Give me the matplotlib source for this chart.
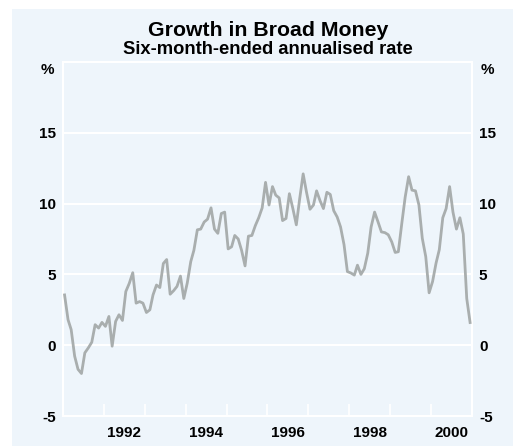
import datetime as dt
import matplotlib
matplotlib.use("Agg")
import matplotlib.pyplot as plt
from matplotlib.patches import Rectangle
import pandas as pd

plt.rcParams["font.family"] = ["Liberation Sans", "DejaVu Sans"]
plt.rcParams["font.weight"] = "bold"
plt.rcParams["axes.unicode_minus"] = False

# Broad money growth, six-month-ended annualised, monthly Jan 1991 - Dec 2000 (%)
growth = [
    3.55, 1.8, 1.1, -0.77, -1.7, -2.0, -0.54, -0.19, 0.21, 1.45, 1.21, 1.61,
    1.33, 2.03, -0.07, 1.68, 2.15, 1.75, 3.79, 4.37, 5.12, 2.97, 3.08, 2.97,
    2.31, 2.5, 3.55, 4.25, 4.07, 5.77, 6.05, 3.6, 3.85, 4.15, 4.88, 3.3,
    4.4, 5.9, 6.7, 8.15, 8.2, 8.7, 8.9, 9.7, 8.2, 7.9, 9.3, 9.4,
    6.8, 6.95, 7.75, 7.5, 6.7, 5.6, 7.7, 7.75, 8.45, 9.0, 9.7, 11.5,
    9.9, 11.2, 10.6, 10.4, 8.8, 8.95, 10.7, 9.65, 8.5, 10.35, 12.1, 10.8,
    9.6, 9.9, 10.9, 10.2, 9.65, 10.8, 10.65, 9.5, 9.05, 8.35, 7.1, 5.2,
    5.1, 4.95, 5.65, 5.0, 5.4, 6.5, 8.35, 9.4, 8.7, 8.0, 7.95, 7.8,
    7.3, 6.55, 6.6, 8.6, 10.45, 11.9, 10.95, 10.9, 9.9, 7.55, 6.25, 3.7,
    4.5, 5.8, 6.75, 9.0, 9.65, 11.2, 9.4, 8.2, 9.0, 7.85, 3.3, 1.6,
]
months = pd.date_range("1991-01-01", periods=len(growth), freq="MS") + pd.Timedelta(days=14)

y_ticks = [-5, 0, 5, 10, 15]
label_years = [1992, 1994, 1996, 1998, 2000]

panel = "#eef5fb"
line_col = "#a9aeae"

fig = plt.figure(figsize=(5.13, 4.47), dpi=100)
fig.patches.append(Rectangle((12 / 513, 1 / 447), 1 - 12 / 513, 437 / 447,
                             transform=fig.transFigure, facecolor=panel,
                             edgecolor="none", zorder=-10))

ax = fig.add_axes([63 / 513, 31 / 447, 409 / 513, 354 / 447])
ax.set_facecolor(panel)
ax.plot(months, growth, color=line_col, lw=2.0, zorder=3)

ax.set_xlim(dt.datetime(1991, 1, 1), dt.datetime(2001, 1, 1))
ax.set_ylim(-5, 20)

# year boundaries as inward ticks, labels centred in the year
ax.set_xticks([dt.datetime(y, 1, 1) for y in range(1992, 2001)])
ax.set_xticklabels([])
ax.set_xticks([dt.datetime(y, 7, 2) for y in label_years], minor=True)
ax.set_xticklabels([str(y) for y in label_years], minor=True)
ax.tick_params(axis="x", which="major", direction="in", length=9, width=1.2,
               color="white")
ax.tick_params(axis="x", which="minor", length=0, pad=7, labelsize=11)

ax.set_yticks(y_ticks)
ax.set_yticklabels([str(v) for v in y_ticks])
ax.tick_params(axis="y", length=0, labelsize=11, pad=5,
               labelleft=True, labelright=True)
ax.grid(axis="y", color="white", lw=1.5, zorder=1)

for s in ax.spines.values():
    s.set_color("white")
    s.set_linewidth(1.5)

ax.text(-0.037, 19.4, "%", transform=ax.get_yaxis_transform(), ha="center",
        va="center", fontsize=11, fontweight="bold")
ax.text(1.037, 19.4, "%", transform=ax.get_yaxis_transform(), ha="center",
        va="center", fontsize=11, fontweight="bold")

fig.text(268 / 513, 1 - 30 / 447, "Growth in Broad Money", ha="center",
         va="center", fontsize=15.3, fontweight="bold")
fig.text(268 / 513, 1 - 49 / 447, "Six-month-ended annualised rate",
         ha="center", va="center", fontsize=13.2, fontweight="bold")

fig.savefig("out.png", dpi=100)
